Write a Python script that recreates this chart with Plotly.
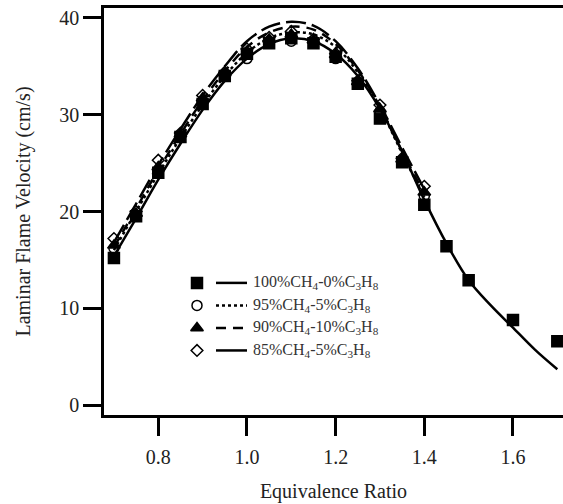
import plotly.graph_objects as go

# ---- data ----
phi_sq = [0.70, 0.75, 0.80, 0.85, 0.90, 0.95, 1.00, 1.05, 1.10, 1.15, 1.20, 1.25, 1.30, 1.35, 1.40, 1.45, 1.50, 1.60, 1.70]
sl_100 = [15.2, 19.5, 24.0, 27.7, 31.1, 34.0, 36.3, 37.4, 37.9, 37.4, 36.0, 33.2, 29.6, 25.1, 20.7, 16.4, 12.9, 8.8, 6.6]

phi_mix = [0.70, 0.75, 0.80, 0.85, 0.90, 0.95, 1.00, 1.05, 1.10, 1.15, 1.20, 1.25, 1.30, 1.35, 1.40]
sl_95 = [16.2, 19.6, 24.2, 27.8, 31.4, 34.2, 35.8, 37.6, 37.6, 37.5, 35.8, 33.3, 30.3, 25.3, 21.6]
sl_90 = [16.5, 19.8, 24.6, 28.0, 31.7, 34.3, 36.5, 37.8, 38.3, 37.7, 36.2, 33.4, 30.6, 25.4, 22.0]
sl_85 = [17.2, 20.0, 25.3, 28.1, 32.0, 34.4, 36.8, 38.0, 38.6, 37.8, 36.3, 33.5, 31.0, 25.5, 22.6]

fit_phi_100 = [0.70, 0.75, 0.80, 0.85, 0.90, 0.95, 1.00, 1.05, 1.10, 1.15, 1.20, 1.25, 1.30, 1.35, 1.40, 1.45, 1.50, 1.55, 1.60, 1.65, 1.70]
fit_100 = [15.4, 19.3, 23.3, 27.0, 30.5, 33.5, 35.8, 37.3, 37.9, 37.6, 36.3, 34.0, 30.6, 26.2, 21.2, 16.7, 12.9, 10.3, 8.0, 5.7, 3.7]

fit_phi_mix = [0.70, 0.75, 0.80, 0.85, 0.90, 0.95, 1.00, 1.05, 1.10, 1.15, 1.20, 1.25, 1.30, 1.35, 1.40]
fit_95 = [16.0, 20.0, 23.9, 27.6, 31.0, 34.0, 36.4, 37.9, 38.5, 38.3, 37.0, 34.4, 30.7, 26.0, 21.5]
fit_90 = [16.3, 20.3, 24.3, 28.0, 31.5, 34.5, 37.0, 38.5, 39.1, 38.8, 37.3, 34.6, 30.8, 26.2, 21.8]
fit_85 = [16.8, 20.8, 24.8, 28.5, 32.0, 35.0, 37.6, 39.1, 39.6, 39.2, 37.6, 34.8, 31.0, 26.6, 22.3]

labels = ["100%CH<sub>4</sub>-0%C<sub>3</sub>H<sub>8</sub>",
          "95%CH<sub>4</sub>-5%C<sub>3</sub>H<sub>8</sub>",
          "90%CH<sub>4</sub>-10%C<sub>3</sub>H<sub>8</sub>",
          "85%CH<sub>4</sub>-5%C<sub>3</sub>H<sub>8</sub>"]

x_ticks = [0.8, 1.0, 1.2, 1.4, 1.6]
y_ticks = [0, 10, 20, 30, 40]

# ---- styles ----
FONT = "Liberation Serif, Times New Roman, Times, serif"
symbols = ["square", "circle-open", "triangle-up", "diamond-open"]
msizes = [11, 10, 11, 9]
dashes = ["solid", "dot", "10px,7px", "20px,6px"]
leg_dashes = ["solid", "dot", "10px,7px", "solid"]

fig = go.Figure()

fits = [(fit_phi_100, fit_100), (fit_phi_mix, fit_95), (fit_phi_mix, fit_90), (fit_phi_mix, fit_85)]
for (fx, fy), d in zip(fits, dashes):
    fig.add_trace(go.Scatter(x=fx, y=fy, mode="lines", line=dict(color="black", width=2.5, dash=d, shape="spline"),
                             showlegend=False, hoverinfo="skip"))

pts = [(phi_sq, sl_100), (phi_mix, sl_95), (phi_mix, sl_90), (phi_mix, sl_85)]
for (px, py), s, ms in zip(pts, symbols, msizes):
    fig.add_trace(go.Scatter(x=px, y=py, mode="markers",
                             marker=dict(symbol=s, size=ms, color="black", line=dict(color="black", width=1.5)),
                             showlegend=False))

# ---- hand-made legend on a hidden overlay axis measured in pixels ----
leg_rows = [283, 305.5, 328, 350.5]
leg_marker_x = 197
leg_line = (216, 247)
leg_text_x = 251
for i, (lab, s, ms, d) in enumerate(zip(labels, symbols, msizes, leg_dashes)):
    yrow = leg_rows[i]
    fig.add_trace(go.Scatter(x=[leg_marker_x], y=[yrow], xaxis="x2", yaxis="y2", mode="markers",
                             marker=dict(symbol=s, size=ms, color="black", line=dict(color="black", width=1.5)),
                             showlegend=False, hoverinfo="skip"))
    fig.add_trace(go.Scatter(x=list(leg_line), y=[yrow, yrow], xaxis="x2", yaxis="y2", mode="lines",
                             line=dict(color="black", width=2.5, dash=d),
                             showlegend=False, hoverinfo="skip"))
    fig.add_annotation(x=leg_text_x, y=yrow, xref="x2", yref="y2", text=lab, showarrow=False,
                       xanchor="left", yanchor="middle", font=dict(family=FONT, size=16, color="#333"))

fig.update_layout(
    width=563, height=504,
    margin=dict(l=104, r=0, t=8, b=89),
    plot_bgcolor="white", paper_bgcolor="white",
    font=dict(family=FONT, size=20, color="#222"),
    xaxis=dict(range=[0.6776, 1.7128], tickvals=x_ticks, ticktext=[f"{v:.1f}" for v in x_ticks],
               showline=True, linecolor="black", linewidth=2.5, mirror=True,
               ticks="outside", ticklen=18, tickwidth=2.5, tickcolor="black",
               showgrid=False, zeroline=False, ticklabelstandoff=4,
               title=dict(text="Equivalence Ratio", font=dict(family=FONT, size=20, color="#222"), standoff=18)),
    yaxis=dict(range=[-1.03, 41.03], tickvals=y_ticks,
               showline=True, linecolor="black", linewidth=2.5,
               ticks="outside", ticklen=18, tickwidth=2.5, tickcolor="black",
               showgrid=False, zeroline=False,
               title=dict(text="Laminar Flame Velocity (cm/s)", font=dict(family=FONT, size=20, color="#222"), standoff=24)),
    xaxis2=dict(range=[104, 563], overlaying="x", visible=False, fixedrange=True),
    yaxis2=dict(range=[415, 8.3], overlaying="y", visible=False, fixedrange=True),
)

fig.write_html("out.html", config={"displayModeBar": False},
               post_script="document.body.style.margin='0px';document.body.style.overflow='hidden';")
